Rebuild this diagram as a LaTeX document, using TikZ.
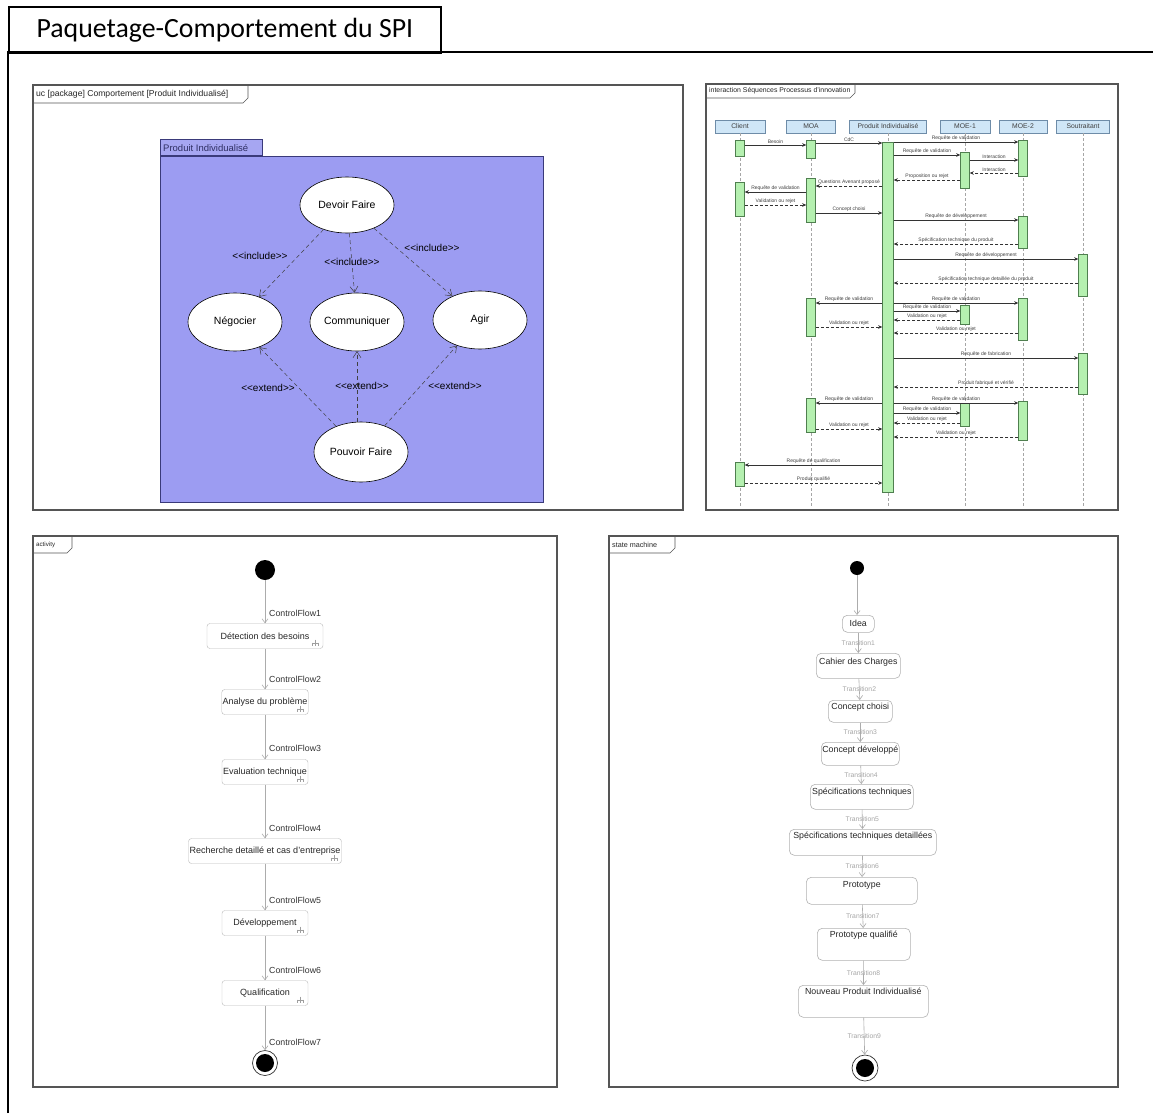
\documentclass[tikz,border=0pt]{standalone}
\usepackage{fontspec}
\setmainfont{Liberation Sans}
\newfontfamily\titlefont{Carlito}
\usetikzlibrary{arrows.meta,shapes.geometric,calc}
\definecolor{pkgfill}{HTML}{9C9CF2}
\definecolor{pkgtab}{HTML}{A6A6F2}
\definecolor{pkgdraw}{HTML}{3A3A7A}
\definecolor{headfill}{HTML}{CFE6F7}
\definecolor{headdraw}{HTML}{6E8CA8}
\definecolor{barfill}{HTML}{B5F0B0}
\definecolor{bardraw}{HTML}{4F7F4F}
\definecolor{framegray}{HTML}{555555}
\newcommand\incl{<\kern0pt<include>\kern0pt>}
\newcommand\extd{<\kern0pt<extend>\kern0pt>}
\newcommand\sqm[5]{\draw[#5] (#2 |- 0,#1) -- node[sqlbl]{#4} (#3 |- 0,#1);}
\newcommand\rakeicon[1]{\begin{scope}[shift={($(#1.south east)+(-8,-6)$)}]
\draw[gray!75, line width=0.4pt] (0,-3)--(0,0) (-3,0)--(3,0) (-3,0)--(-3,3) (0,0)--(0,3) (3,0)--(3,3);
\end{scope}}
\newcommand\framelabel[6]{\draw[draw=framegray, line width=0.6pt] (#1,#2+#4) -- (#3-5,#2+#4) -- (#3,#2+#4-5) -- (#3,#2);
\node[flab, font=\fontsize{#6}{#6}\selectfont] at (#1+2,#2+#4/2) {#5};}
\tikzset{
 panel/.style={draw=framegray, line width=1.3pt, fill=white, inner sep=0, outer sep=0, anchor=north west},
 flab/.style={anchor=west, inner sep=1pt, text=black!85},
 uce/.style={ellipse, draw=black, line width=0.6pt, fill=white, inner sep=0, minimum width=94pt, minimum height=58pt, font=\fontsize{10.5}{12}\selectfont},
 incl/.style={draw=black!75, dash pattern=on 4pt off 3pt, line width=0.5pt, -{Straight Barb[length=6pt,width=8pt]}},
 ulbl/.style={font=\fontsize{10}{12}\selectfont, inner sep=1pt},
 head/.style={draw=headdraw, fill=headfill, line width=0.5pt, minimum height=13pt, inner sep=0, font=\fontsize{6.8}{7}\selectfont, text=black!75},
 lifeline/.style={draw=gray!70, dash pattern=on 3pt off 2pt, line width=0.4pt},
 actbar/.style={draw=bardraw, fill=barfill, line width=0.5pt, minimum width=9pt, inner sep=0, anchor=north},
 sync/.style={draw=black!80, line width=0.5pt, -{Stealth[length=4pt,width=3.5pt]}},
 rply/.style={sync, dash pattern=on 3pt off 2pt},
 sqlbl/.style={above, inner sep=1pt, font=\fontsize{5}{6}\selectfont, text=black!75},
 actn/.style={draw=gray!55, rounded corners=3pt, fill=white, minimum height=25pt, inner sep=1pt, font=\fontsize{9}{10}\selectfont, text=black!85},
 flow/.style={draw=gray!65, line width=0.6pt, -{Straight Barb[length=4pt,width=6pt]}},
 flowlbl/.style={anchor=west, font=\fontsize{8.8}{10}\selectfont, text=black!80, inner sep=0},
 stbox/.style={draw=gray!60, rounded corners=5pt, fill=white, line width=0.6pt, inner sep=0, anchor=north west},
 sttxt/.style={font=\fontsize{8.8}{10}\selectfont, text=black!85, inner sep=0},
 trlbl/.style={font=\fontsize{6.8}{7}\selectfont, text=gray!70, inner sep=0},
 startdot/.style={circle, fill=black, inner sep=0},
}
\begin{document}
\begin{tikzpicture}[x=1pt,y=-1pt]
\useasboundingbox[fill=white] (0,0) rectangle (1153,1113);
% outer frame
\draw[line width=2pt] (8,1113) -- (8,52) -- (1153,52);
\node[draw, line width=1.8pt, anchor=north west, minimum width=432pt, minimum height=46pt, inner sep=0,
  font=\titlefont\fontsize{27.8}{30}\selectfont] (title) at (8,6) {Paquetage-Comportement du SPI};

% ================= use case panel
\node[panel, minimum width=650pt, minimum height=425pt] (uc) at (33,85) {};
\framelabel{33}{85}{248}{18}{uc [package] Comportement [Produit Individualisé]}{8.6}
\node[draw=pkgdraw, fill=pkgfill, line width=0.6pt, anchor=north west, minimum width=383pt, minimum height=346pt, inner sep=0] (pkg) at (160,156) {};
\node[draw=pkgdraw, fill=pkgtab, line width=0.6pt, anchor=south west, minimum width=102pt, minimum height=16pt, inner sep=0] (pkgtab) at (160,156) {};
\node[anchor=west, inner sep=0, font=\fontsize{9.5}{10}\selectfont, text=pkgdraw!80!black] (pkgname) at (163,148) {Produit Individualisé};
\node[uce, minimum height=56pt] (devoir) at (347,205) {Devoir Faire};
\node[uce] (nego) at (235,322) {Négocier};
\node[uce] (comm) at (357,322) {Communiquer};
\node[uce] (agir) at (480,320) {Agir};
\node[uce, minimum height=60pt] (pouvoir) at (361,452) {Pouvoir Faire};
\draw[incl] (devoir) -- (nego);
\draw[incl] (devoir) -- (comm);
\draw[incl] (devoir) -- (agir);
\draw[incl] (pouvoir) -- (nego);
\draw[incl] (pouvoir.north -| comm) -- (comm);
\draw[incl] (pouvoir) -- (agir);
\node[ulbl] (li1) at (260,256) {\incl};
\node[ulbl] (li2) at (352,262) {\incl};
\node[ulbl] (li3) at (432,248) {\incl};
\node[ulbl] (le1) at (268,388) {\extd};
\node[ulbl] (le2) at (362,386) {\extd};
\node[ulbl] (le3) at (455,386) {\extd};

% ================= sequence panel
\node[panel, minimum width=412pt, minimum height=426pt] (sq) at (706,84) {};
\framelabel{706}{84}{855}{14}{interaction Séquences Processus d'innovation}{6.9}
\node[head, minimum width=50pt] (hC) at (740,126.5) {Client};
\node[head, minimum width=49pt] (hM) at (811,126.5) {MOA};
\node[head, minimum width=77pt] (hP) at (888,126.5) {Produit Individualisé};
\node[head, minimum width=50pt] (hE1) at (965,126.5) {MOE-1};
\node[head, minimum width=48pt] (hE2) at (1023,126.5) {MOE-2};
\node[head, minimum width=53pt] (hS) at (1083,126.5) {Soutraitant};
\foreach \h in {hC,hM,hP,hE1,hE2,hS} \draw[lifeline] (\h.south) -- (\h.south |- 0,506);
% activation bars
\node[actbar, minimum height=16pt] (bC1) at (740,140) {};
\node[actbar, minimum height=34pt] (bC2) at (740,182) {};
\node[actbar, minimum height=24pt] (bC3) at (740,462) {};
\node[actbar, minimum height=18pt] (bM1) at (811,140) {};
\node[actbar, minimum height=44pt] (bM2) at (811,178) {};
\node[actbar, minimum height=38pt] (bM3) at (811,298) {};
\node[actbar, minimum height=34pt] (bM4) at (811,398) {};
\node[actbar, minimum width=11pt, minimum height=350pt] (bP) at (888,142) {};
\node[actbar, minimum height=36pt] (bE1a) at (965,152) {};
\node[actbar, minimum height=19pt] (bE1b) at (965,305) {};
\node[actbar, minimum height=23pt] (bE1c) at (965,403) {};
\node[actbar, minimum height=36pt] (bE2a) at (1023,140) {};
\node[actbar, minimum height=32pt] (bE2b) at (1023,216) {};
\node[actbar, minimum height=42pt] (bE2c) at (1023,298) {};
\node[actbar, minimum height=39pt] (bE2d) at (1023,401) {};
\node[actbar, minimum height=42pt] (bSa) at (1083,254) {};
\node[actbar, minimum height=41pt] (bSb) at (1083,353) {};
% messages
\sqm{145}{bC1.east}{bM1.west}{Besoin}{sync}
\sqm{143}{bM1.east}{bP.west}{CdC}{sync}
\sqm{142}{bP.east}{bE2a.west}{Requête de validation}{sync}
\sqm{155}{bP.east}{bE1a.west}{Requête de validation}{sync}
\sqm{160}{bE1a.east}{bE2a.west}{Interaction}{sync}
\sqm{173}{bE2a.west}{bE1a.east}{Interaction}{rply}
\sqm{180}{bE1a.west}{bP.east}{Proposition ou rejet}{rply}
\sqm{186}{bP.west}{bM2.east}{Questions Avenant proposé}{rply}
\sqm{192}{bM2.west}{bC2.east}{Requête de validation}{sync}
\sqm{205}{bC2.east}{bM2.west}{Validation ou rejet}{rply}
\sqm{213}{bM2.east}{bP.west}{Concept choisi}{sync}
\sqm{220}{bP.east}{bE2b.west}{Requête de développement}{sync}
\sqm{244}{bE2b.west}{bP.east}{Spécification technique du produit}{rply}
\sqm{259}{bP.east}{bSa.west}{Requête de développement}{sync}
\sqm{283}{bSa.west}{bP.east}{Spécification technique detaillée du produit}{rply}
\sqm{303}{bP.west}{bM3.east}{Requête de validation}{sync}
\sqm{303}{bP.east}{bE2c.west}{Requête de validation}{sync}
\sqm{311}{bP.east}{bE1b.west}{Requête de validation}{sync}
\sqm{320}{bE1b.west}{bP.east}{Validation ou rejet}{rply}
\sqm{327}{bM3.east}{bP.west}{Validation ou rejet}{rply}
\sqm{333}{bE2c.west}{bP.east}{Validation ou rejet}{rply}
\sqm{358}{bP.east}{bSb.west}{Requête de fabrication}{sync}
\sqm{387}{bSb.west}{bP.east}{Produit fabriqué et vérifié}{rply}
\sqm{403}{bP.west}{bM4.east}{Requête de validation}{sync}
\sqm{403}{bP.east}{bE2d.west}{Requête de validation}{sync}
\sqm{413}{bP.east}{bE1c.west}{Requête de validation}{sync}
\sqm{423}{bE1c.west}{bP.east}{Validation ou rejet}{rply}
\sqm{429}{bM4.east}{bP.west}{Validation ou rejet}{rply}
\sqm{437}{bE2d.west}{bP.east}{Validation ou rejet}{rply}
\sqm{465}{bP.west}{bC3.east}{Requête de qualification}{sync}
\sqm{483}{bC3.east}{bP.west}{Produit qualifié}{rply}

% ================= activity panel
\node[panel, minimum width=524pt, minimum height=551pt] (act) at (33,536) {};
\framelabel{33}{536}{72}{17}{activity}{6.2}
\node[startdot, minimum size=20pt] (ai) at (265,570) {};
\node[actn, minimum width=116pt] (a1) at (265,636) {Détection des besoins};
\node[actn, minimum width=86pt] (a2) at (265,702) {Analyse du problème};
\node[actn, minimum width=86pt] (a3) at (265,772) {Evaluation technique};
\node[actn, minimum width=153pt] (a4) at (265,851) {Recherche detaillé et cas d'entreprise};
\node[actn, minimum width=86pt] (a5) at (265,923) {Développement};
\node[actn, minimum width=86pt] (a6) at (265,993) {Qualification};
\node[circle, draw=black!80, line width=0.7pt, fill=white, minimum size=25pt, inner sep=0] (af) at (265,1063) {};
\node[startdot, minimum size=18pt] (afin) at (af.center) {};
\foreach \n in {a1,a2,a3,a4,a5,a6} {\rakeicon{\n}}
\draw[flow] (ai) -- (a1);
\draw[flow] (a1) -- (a2);
\draw[flow] (a2) -- (a3);
\draw[flow] (a3) -- (a4);
\draw[flow] (a4) -- (a5);
\draw[flow] (a5) -- (a6);
\draw[flow] (a6) -- (af);
\node[flowlbl] (cf1) at (269,613) {ControlFlow1};
\node[flowlbl] (cf2) at (269,679) {ControlFlow2};
\node[flowlbl] (cf3) at (269,748) {ControlFlow3};
\node[flowlbl] (cf4) at (269,828) {ControlFlow4};
\node[flowlbl] (cf5) at (269,900) {ControlFlow5};
\node[flowlbl] (cf6) at (269,970) {ControlFlow6};
\node[flowlbl] (cf7) at (269,1042) {ControlFlow7};

% ================= state machine panel
\node[panel, minimum width=509pt, minimum height=551pt] (stm) at (609,536) {};
\framelabel{609}{536}{675}{17}{state machine}{7.2}
\node[startdot, minimum size=14pt] (si) at (857,568) {};
\node[stbox, minimum width=32pt, minimum height=17pt] (s1) at (842,615) {};
\node[stbox, minimum width=84pt, minimum height=25pt] (s2) at (816,653) {};
\node[stbox, minimum width=64pt, minimum height=22pt] (s3) at (828,700) {};
\node[stbox, minimum width=78pt, minimum height=23pt] (s4) at (821,742) {};
\node[stbox, minimum width=103pt, minimum height=25pt] (s5) at (810,784) {};
\node[stbox, minimum width=147pt, minimum height=26pt] (s6) at (789,829) {};
\node[stbox, minimum width=111pt, minimum height=27pt] (s7) at (806,877) {};
\node[stbox, minimum width=93pt, minimum height=32pt] (s8) at (817,928) {};
\node[stbox, minimum width=130pt, minimum height=32pt] (s9) at (798,985) {};
\node[circle, draw=black!80, line width=0.7pt, fill=white, minimum size=26pt, inner sep=0] (sf) at (865,1068) {};
\node[startdot, minimum size=18pt] (sfin) at (sf.center) {};
\node[sttxt] (t1) at (s1.center) {Idea};
\node[sttxt] (t2) at ($(s2.north)+(0,9)$) {Cahier des Charges};
\node[sttxt] (t3) at ($(s3.north)+(0,7)$) {Concept choisi};
\node[sttxt] (t4) at ($(s4.north)+(0,8)$) {Concept développé};
\node[sttxt] (t5) at ($(s5.north)+(0,8)$) {Spécifications techniques};
\node[sttxt] (t6) at ($(s6.north)+(0,7)$) {Spécifications techniques detaillées};
\node[sttxt] (t7) at ($(s7.north)+(0,8)$) {Prototype};
\node[sttxt] (t8) at ($(s8.north)+(0,7)$) {Prototype qualifié};
\node[sttxt] (t9) at ($(s9.north)+(0,6)$) {Nouveau Produit Individualisé};
\draw[flow] (si) -- (si |- s1.north);
\draw[flow] (s1) -- node[trlbl]{Transition1} (s2);
\draw[flow] (s2) -- node[trlbl]{Transition2} (s3);
\draw[flow] (s3) -- node[trlbl]{Transition3} (s4);
\draw[flow] (s4) -- node[trlbl]{Transition4} (s5);
\draw[flow] (s5) -- node[trlbl]{Transition5} (s6);
\draw[flow] (s6) -- node[trlbl]{Transition6} (s7);
\draw[flow] (s7) -- node[trlbl]{Transition7} (s8);
\draw[flow] (s8) -- node[trlbl]{Transition8} (s9);
\draw[flow] (s9) -- node[trlbl]{Transition9} (sf);
\end{tikzpicture}
\end{document}
